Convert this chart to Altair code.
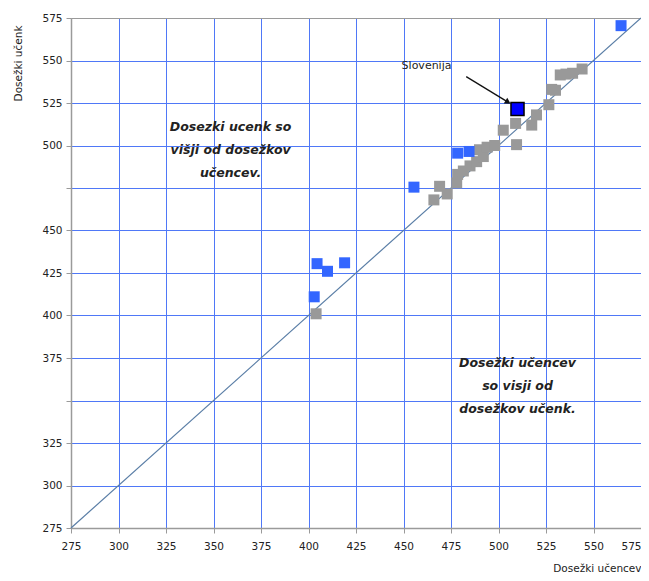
import altair as alt
import pandas as pd

# ---- data ----
ticks = [275, 300, 325, 350, 375, 400, 425, 450, 475, 500, 525, 550, 575]

gray_x = [404, 466, 469, 473, 478, 478.5, 481.5, 485, 488.5, 492, 490, 494, 498,
          502.5, 509.5, 509, 517.5, 520, 526.5, 528, 530, 532.5, 535.5, 539, 544]
gray_y = [401, 468, 476, 471.5, 478, 483, 485, 488, 490.5, 493.5, 497.5, 499, 500,
          509, 500.5, 513, 512, 518, 524, 533, 532.5, 541.5, 542, 542.5, 545]

blue_x = [403, 404.5, 410, 419, 455.5, 478.5, 484.5, 564.5]
blue_y = [411, 430.5, 426, 431, 475.5, 495.5, 496.5, 570.5]

slo_x = [510]
slo_y = [521.5]

diag = [275, 575]

label_text = ["Slovenija"]
label_x = [449]
label_y = [546.8]

arrow_from = [483, 540.5]
arrow_to = [505, 525.5]

note_text = ["Dosezki ucenk so\nvišji od dosežkov\nučencev.",
             "Dosežki učencev\nso visji od\ndosežkov učenk."]
note_x = [359, 510]
note_y = [510.9, 372.1]

# ---- scales / axes ----
sc = alt.Scale(domain=[275, 575], nice=False, zero=False)
grid_col = {"condition": {"test": "datum.value == 575 || datum.value == 275",
                          "value": "#9a9a9a"},
            "value": "#4f78f7"}
common = dict(values=ticks, grid=True, gridColor=grid_col, gridWidth=1,
              domainColor="#9a9a9a", domainWidth=1.5, tickColor="#9a9a9a",
              tickSize=5, labelFlush=False, labelFont="DejaVu Sans", labelFontSize=10.5,
              labelColor="#222222", titleFont="DejaVu Sans", titleFontSize=10.5,
              titleFontWeight="normal", titleColor="#222222")

x_axis = alt.Axis(title="Dosežki učencev", labelPadding=8, titleAnchor="end",
                  titleAlign="right", titleY=43, titleBaseline="alphabetic",
                  labelAlign={"condition": {"test": "datum.value == 575", "value": "right"},
                              "value": "center"},
                  **common)
y_axis = alt.Axis(title="Dosežki učenk", labelPadding=4,
                  labelExpr="(datum.value == 475 || datum.value == 350) ? '' : datum.label",
                  titleAngle=-90, titleX=-53, titleY=45, titleAlign="center",
                  titleBaseline="middle", **common)

X = alt.X("x:Q", scale=sc, axis=x_axis)
Y = alt.Y("y:Q", scale=sc, axis=y_axis)

diag_df = pd.DataFrame({"x": diag, "y": diag})
gray_df = pd.DataFrame({"x": gray_x, "y": gray_y})
blue_df = pd.DataFrame({"x": blue_x, "y": blue_y})
slo_df = pd.DataFrame({"x": slo_x, "y": slo_y})
lab_df = pd.DataFrame({"x": label_x, "y": label_y, "t": label_text})
arr_df = pd.DataFrame({"x": [arrow_from[0]], "y": [arrow_from[1]],
                       "x2": [arrow_to[0]], "y2": [arrow_to[1]]})
head_df = pd.DataFrame({"x": [arrow_to[0]], "y": [arrow_to[1]]})
note_df = pd.DataFrame({"x": note_x, "y": note_y, "t": note_text})

line = alt.Chart(diag_df).mark_line(color="#5a7ea6", strokeWidth=1.2).encode(x=X, y=Y)
gray = alt.Chart(gray_df).mark_square(size=121, color="#999999", opacity=1).encode(x=X, y=Y)
blue = alt.Chart(blue_df).mark_square(size=121, color="#3366ff", opacity=1).encode(x=X, y=Y)
slo = alt.Chart(slo_df).mark_square(size=170, fill="#0000ff", stroke="#000000",
                                    strokeWidth=1.5, opacity=1).encode(x=X, y=Y)
arrow = alt.Chart(arr_df).mark_rule(color="#111111", strokeWidth=1.3).encode(
    x=X, y=Y, x2="x2:Q", y2="y2:Q")
head = alt.Chart(head_df).mark_point(shape="triangle-up", filled=True, size=45,
                                     color="#111111", angle=121.5, opacity=1).encode(x=X, y=Y)
lab = alt.Chart(lab_df).mark_text(font="DejaVu Sans", fontSize=11, color="#222222",
                                  align="left", baseline="middle").encode(x=X, y=Y, text="t:N")
notes = alt.Chart(note_df).mark_text(font="DejaVu Sans", fontSize=12.5, fontStyle="italic",
                                     fontWeight="bold", color="#222222", align="center",
                                     baseline="middle", lineBreak="\n",
                                     lineHeight=23).encode(x=X, y=Y, text="t:N")

chart = alt.layer(line, gray, blue, slo, arrow, head, lab, notes).properties(
    width=570, height=510,
    autosize=alt.AutoSizeParams(type="none"),
    padding={"left": 63, "top": 10, "right": 0, "bottom": 44},
).configure_view(stroke="#9a9a9a", strokeWidth=1.5).configure(background="white")

chart.save("out.html", embed_options={"renderer": "svg", "actions": False})
